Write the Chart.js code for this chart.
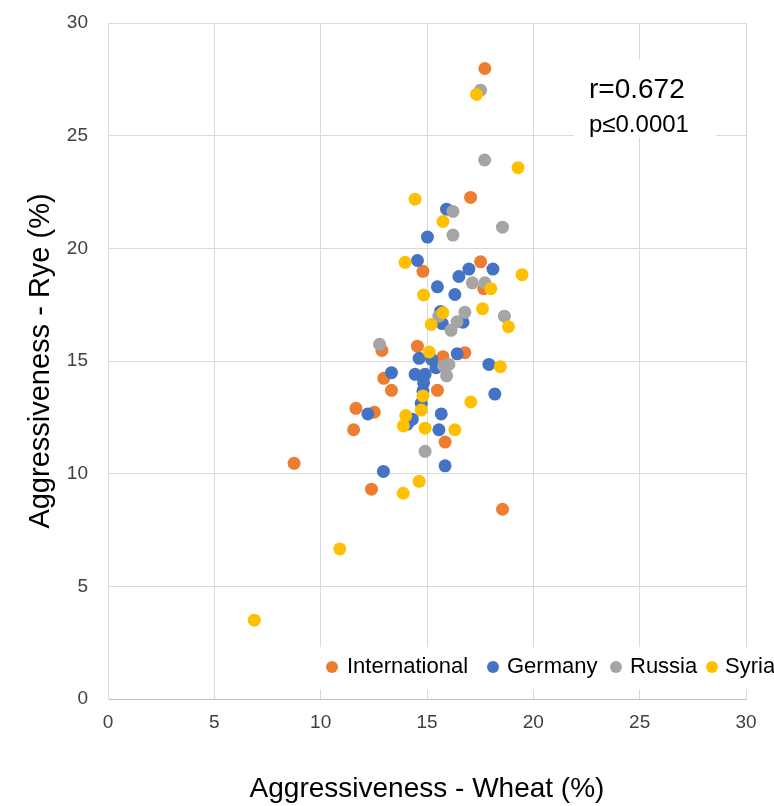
<!DOCTYPE html>
<html>
<head>
<meta charset="utf-8">
<script src="https://cdn.jsdelivr.net/npm/chart.js@4"></script>
<style>
  html, body { margin: 0; padding: 0; background: #fff; }
  #wrap { width: 774px; height: 806px; }
</style>
</head>
<body>
<div id="wrap"><canvas id="aggChart" width="774" height="806"></canvas></div>
<script>
// Aggressiveness on wheat (x) vs rye (y), per origin

const intlX = [17.72, 17.05, 17.52, 14.81, 17.67, 12.88, 14.55, 15.75, 16.78, 12.97, 13.33, 15.49, 11.66, 12.52, 11.55, 15.85, 8.75, 12.39, 18.55];
const intlY = [27.98, 22.26, 19.40, 18.98, 18.21, 15.47, 15.66, 15.19, 15.37, 14.23, 13.70, 13.70, 12.90, 12.73, 11.95, 11.40, 10.46, 9.31, 8.42];

const germanyX = [15.92, 15.02, 14.55, 16.97, 18.10, 16.50, 15.49, 16.31, 15.64, 15.72, 16.69, 16.42, 14.63, 15.22, 15.42, 17.91, 13.33, 14.44, 14.91, 14.84, 14.81, 18.19, 14.73, 12.22, 15.67, 14.31, 14.08, 15.56, 12.95, 15.85];
const germanyY = [21.74, 20.50, 19.46, 19.08, 19.08, 18.75, 18.29, 17.95, 17.20, 16.66, 16.72, 15.32, 15.12, 15.07, 14.70, 14.85, 14.48, 14.41, 14.41, 14.04, 13.67, 13.53, 13.12, 12.65, 12.65, 12.42, 12.20, 11.95, 10.10, 10.35];

const russiaX = [17.52, 17.71, 16.22, 18.55, 16.22, 17.13, 17.72, 18.64, 16.78, 15.56, 16.41, 16.13, 12.77, 15.78, 16.03, 15.92, 14.91];
const russiaY = [27.02, 23.92, 21.64, 20.94, 20.59, 18.47, 18.47, 16.99, 17.16, 16.99, 16.74, 16.36, 15.74, 14.78, 14.85, 14.34, 10.99];

const syriaX = [17.33, 19.28, 14.44, 15.75, 13.97, 19.47, 18.00, 14.84, 17.61, 18.83, 15.75, 15.20, 15.10, 18.45, 14.81, 17.06, 14.73, 14.00, 13.89, 14.91, 16.31, 14.63, 13.88, 10.90, 6.88];
const syriaY = [26.83, 23.58, 22.18, 21.19, 19.38, 18.83, 18.21, 17.93, 17.32, 16.52, 17.14, 16.62, 15.40, 14.75, 13.45, 13.18, 12.82, 12.58, 12.12, 12.02, 11.95, 9.66, 9.13, 6.66, 3.50];

const seriesNames = ['International', 'Germany', 'Russia', 'Syria'];
const seriesColors = ['#ED7D31', '#4472C4', '#A5A5A5', '#FFC000'];

const xTitle = 'Aggressiveness - Wheat (%)';
const yTitle = 'Aggressiveness - Rye (%)';
const statLines = ['r=0.672', 'p\u22640.0001'];

const FONT = "'Liberation Sans', Arial, sans-serif";

const toPoints = (xs, ys) => xs.map((x, i) => ({ x: x, y: ys[i] }));

const allSeries = [
    toPoints(intlX, intlY),
    toPoints(germanyX, germanyY),
    toPoints(russiaX, russiaY),
    toPoints(syriaX, syriaY)
];

// white boxes + stats text + legend drawn inside the plot, over the grid
const overlayPlugin = {
    id: 'overlay',
    beforeDatasetsDraw(chart) {
        const c = chart.ctx;
        c.save();
        c.fillStyle = '#ffffff';
        c.fillRect(574, 60, 142, 78);
        c.fillRect(316, 647, 458, 43);
        c.restore();
    },
    afterDraw(chart) {
        const c = chart.ctx;
        c.save();
        c.fillStyle = '#000000';
        c.textAlign = 'left';
        c.textBaseline = 'alphabetic';
        c.font = '28px ' + FONT;
        c.fillText(statLines[0], 589, 98);
        c.font = '24px ' + FONT;
        c.fillText(statLines[1], 589, 132);

        // legend
        const dotX = [332, 493, 616, 712];
        const textX = [347, 507, 630, 725];
        c.font = '22px ' + FONT;
        seriesNames.forEach((name, i) => {
            c.beginPath();
            c.fillStyle = seriesColors[i];
            c.arc(dotX[i], 667, 6, 0, Math.PI * 2);
            c.fill();
            c.fillStyle = '#000000';
            c.fillText(name, textX[i], 673);
        });
        c.restore();
    }
};

const ctx = document.getElementById('aggChart').getContext('2d');

const aggChart = new Chart(ctx, {
    type: 'scatter',
    data: {
        datasets: allSeries.map((pts, i) => ({
            label: seriesNames[i],
            data: pts,
            backgroundColor: seriesColors[i],
            borderColor: seriesColors[i],
            borderWidth: 0,
            pointRadius: 6.5,
            pointHoverRadius: 6.5,
            order: 4 - i
        }))
    },
    options: {
        responsive: false,
        animation: false,
        layout: { padding: { top: 23, right: 28, left: 0, bottom: 0 } },
        plugins: {
            legend: { display: false },
            tooltip: { enabled: false }
        },
        scales: {
            x: {
                type: 'linear',
                min: 0,
                max: 30,
                afterFit: (s) => { s.height = 107; s.paddingLeft = 0; s.paddingRight = 0; },
                ticks: {
                    stepSize: 5,
                    padding: 12,
                    color: '#404040',
                    font: { family: FONT, size: 19 }
                },
                grid: { color: '#d9d9d9', drawTicks: false },
                border: { color: '#bfbfbf' },
                title: {
                    display: true,
                    text: xTitle,
                    color: '#000000',
                    font: { family: FONT, size: 28 },
                    padding: { top: 0, bottom: 0 }
                }
            },
            y: {
                type: 'linear',
                min: 0,
                max: 30,
                afterFit: (s) => { s.width = 108; s.paddingTop = 0; s.paddingBottom = 0; },
                ticks: {
                    stepSize: 5,
                    padding: 20,
                    color: '#404040',
                    font: { family: FONT, size: 19 }
                },
                grid: { color: '#d9d9d9', drawTicks: false },
                border: { color: '#d9d9d9' },
                title: {
                    display: true,
                    text: yTitle,
                    color: '#000000',
                    font: { family: FONT, size: 29 },
                    padding: { top: 24, bottom: 0 }
                }
            }
        }
    },
    plugins: [overlayPlugin]
});
</script>
</body>
</html>
